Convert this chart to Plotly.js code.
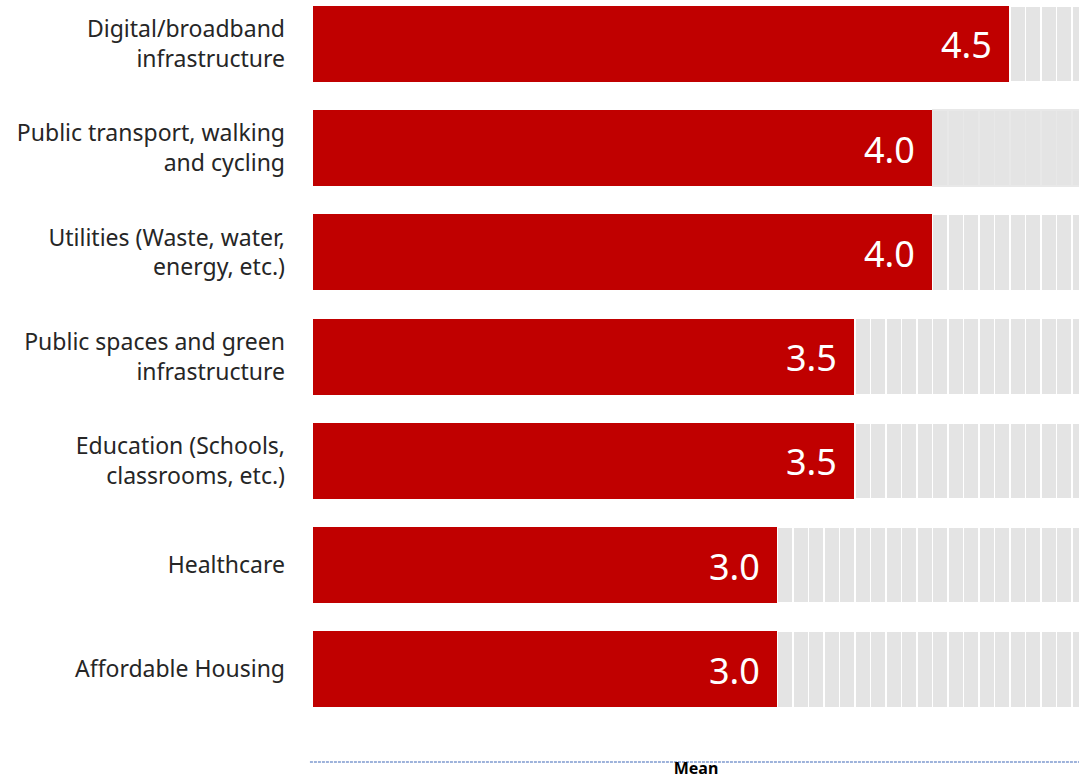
<!DOCTYPE html>
<html>
<head>
<meta charset="utf-8">
<script src="https://cdn.plot.ly/plotly-3.0.1.min.js"></script>
<style>html,body{margin:0;padding:0;background:#fff;}#chart{width:1079px;height:780px;}</style>
</head>
<body>
<div id="chart"></div>
<script>
const categories = [
  'Digital/broadband<br>infrastructure',
  'Public transport, walking<br>and cycling',
  'Utilities (Waste, water,<br>energy, etc.)',
  'Public spaces and green<br>infrastructure',
  'Education (Schools,<br>classrooms, etc.)',
  'Healthcare',
  'Affordable Housing'
];
const means = [4.5, 4.0, 4.0, 3.5, 3.5, 3.0, 3.0];
const valueLabels = ['4.5', '4.0', '4.0', '3.5', '3.5', '3.0', '3.0'];
const scaleMax = 5.0;
const segmentStep = 0.1;

const red = '#C00000';
const grey = '#E4E4E4';

// grey background made of small stacked segments up to the scale maximum
const segY = [], segX = [], segLine = [];
categories.forEach((c, i) => {
  const n = Math.round((scaleMax - means[i]) / segmentStep);
  for (let k = 0; k < n; k++) {
    segY.push(c);
    segX.push(segmentStep);
    segLine.push(i === 1 ? '#E8E8E8' : '#FFFFFF');
  }
});

const traces = [
  {
    type: 'bar', orientation: 'h',
    y: categories, x: means,
    marker: {color: red, line: {width: 0}},
    hoverinfo: 'x+y', showlegend: false
  },
  {
    type: 'bar', orientation: 'h',
    y: segY, x: segX,
    marker: {color: grey, line: {color: segLine, width: 1.5}},
    hoverinfo: 'skip', showlegend: false
  }
];

const annotations = categories.map((c, i) => ({
  x: means[i], y: c, xref: 'x', yref: 'y',
  text: valueLabels[i], showarrow: false,
  xanchor: 'right', yanchor: 'middle', xshift: -16, yshift: -1,
  font: {family: 'Noto Sans, Open Sans, sans-serif', size: 36, color: '#FFFFFF'}
}));

const layout = {
  width: 1079, height: 780,
  margin: {l: 313, r: 0, t: 0, b: 18, autoexpand: false},
  paper_bgcolor: '#FFFFFF', plot_bgcolor: '#FFFFFF',
  barmode: 'stack', bargap: 0.27,
  font: {family: 'Noto Sans, Open Sans, sans-serif', color: '#262626'},
  xaxis: {
    range: [0, 4.945], showgrid: false, zeroline: false, showline: false,
    showticklabels: false, ticks: '', fixedrange: true,
    title: {text: '<b>Mean</b>', standoff: 0, font: {size: 16, color: '#000000', family: 'Noto Sans, sans-serif'}},
    automargin: false
  },
  yaxis: {
    type: 'category', range: [6.89, -0.422], showgrid: false, zeroline: false,
    showline: false, ticks: '', ticklabelstandoff: 27,
    tickfont: {size: 23, color: '#262626'}, automargin: false, fixedrange: true
  },
  shapes: [{
    type: 'line', xref: 'paper', yref: 'paper', x0: -0.004, x1: 1, y0: 0, y1: 0,
    line: {color: '#7F9ACF', width: 1.3, dash: '3px,1px'}
  }],
  annotations: annotations
};

Plotly.newPlot('chart', traces, layout, {displayModeBar: false, staticPlot: true});
</script>
</body>
</html>
